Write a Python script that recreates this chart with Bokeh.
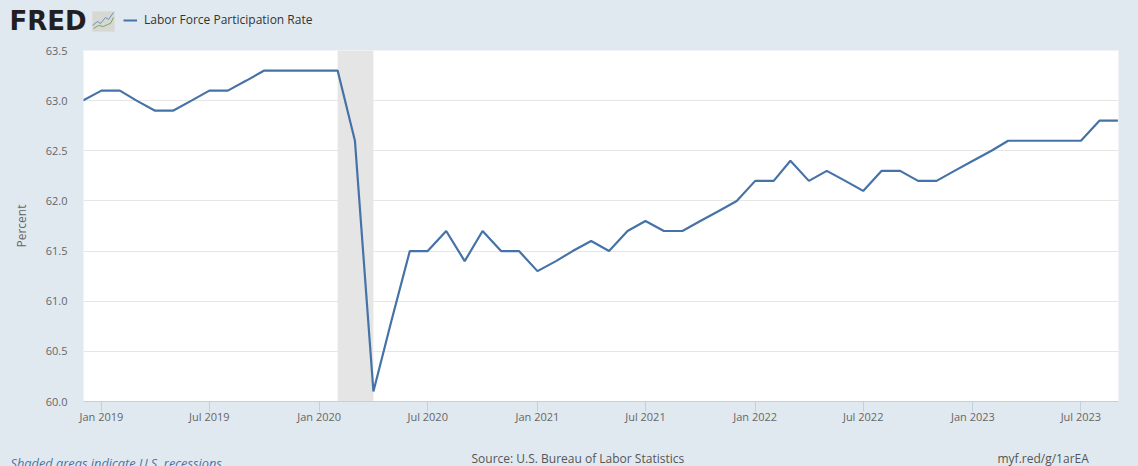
from datetime import datetime
from bokeh.embed import file_html
from bokeh.layouts import column
from bokeh.resources import INLINE
from bokeh.plotting import figure
from bokeh.models import (ColumnDataSource, FixedTicker, Label, Legend, LegendItem, Range1d)

months = [f"{y}-{m:02d}" for y, m in
          [(2018, 12)] + [(2019, m) for m in range(1, 13)] + [(2020, m) for m in range(1, 13)]
          + [(2021, m) for m in range(1, 13)] + [(2022, m) for m in range(1, 13)]
          + [(2023, m) for m in range(1, 10)]]
rate = [63.0,
        63.1, 63.1, 63.0, 62.9, 62.9, 63.0, 63.1, 63.1, 63.2, 63.3, 63.3, 63.3,
        63.3, 63.3, 62.6, 60.1, 60.8, 61.5, 61.5, 61.7, 61.4, 61.7, 61.5, 61.5,
        61.3, 61.4, 61.5, 61.6, 61.5, 61.7, 61.8, 61.7, 61.7, 61.8, 61.9, 62.0,
        62.2, 62.2, 62.4, 62.2, 62.3, 62.2, 62.1, 62.3, 62.3, 62.2, 62.2, 62.3,
        62.4, 62.5, 62.6, 62.6, 62.6, 62.6, 62.6, 62.8, 62.8]
x_ticks = ["2019-01", "2019-07", "2020-01", "2020-07", "2021-01", "2021-07",
           "2022-01", "2022-07", "2023-01", "2023-07"]
x_tick_labels = ["Jan 2019", "Jul 2019", "Jan 2020", "Jul 2020", "Jan 2021", "Jul 2021",
                 "Jan 2022", "Jul 2022", "Jan 2023", "Jul 2023"]
y_ticks = [60.0, 60.5, 61.0, 61.5, 62.0, 62.5, 63.0, 63.5]
recession_start = "2020-02"
recession_end = "2020-04"
series_name = "Labor Force Participation Rate"

BG = "#e1e9f0"
FONT = "Open Sans"
W, HEAD, FOOT = 1138, 40, 35
MAIN = 466 - HEAD - FOOT
DAY = 86400000


def ms(s):
    return datetime.strptime(s, "%Y-%m").timestamp() * 1000


dates = [ms(m) for m in months]
src = ColumnDataSource(dict(date=dates, rate=rate))

p = figure(width=W, height=MAIN, output_backend="svg", toolbar_location=None,
           x_axis_type="datetime",
           x_range=Range1d(dates[0] + DAY, dates[-1] + DAY), y_range=Range1d(60.0, 63.5),
           background_fill_color="white", border_fill_color=BG,
           min_border_left=83, min_border_right=20, min_border_top=50 - HEAD,
           min_border_bottom=MAIN - (401 - HEAD), outline_line_color=None)
p.frame_align = False

xa = p.xaxis[0]
tick_ms = [ms(t) for t in x_ticks]
xa.ticker = FixedTicker(ticks=tick_ms)
xa.major_label_overrides = dict(zip(tick_ms, x_tick_labels))
xa.axis_line_color = "#c0d0e0"
xa.major_tick_line_color = "#c0d0e0"
xa.major_tick_out = 10
xa.major_tick_in = 0
xa.minor_tick_line_color = None
xa.major_label_text_font = FONT
xa.major_label_text_font_size = "11px"
xa.major_label_text_color = "#666666"
xa.major_label_standoff = -3

ya = p.yaxis[0]
ya.ticker = FixedTicker(ticks=y_ticks)
ya.major_label_overrides = {v: f"{v:.1f}" for v in y_ticks}
ya.axis_line_color = None
ya.major_tick_line_color = None
ya.minor_tick_line_color = None
ya.major_label_text_font = FONT
ya.major_label_text_font_size = "11px"
ya.major_label_text_color = "#666666"
ya.major_label_standoff = 10
ya.axis_label = "Percent"
ya.axis_label_text_font = FONT
ya.axis_label_text_font_size = "12px"
ya.axis_label_text_font_style = "normal"
ya.axis_label_text_color = "#666666"
ya.axis_label_standoff = 13

p.xgrid.visible = False
p.ygrid[0].ticker = FixedTicker(ticks=y_ticks[1:-1])
p.ygrid[0].grid_line_color = "#e6e6e6"
p.ygrid[0].grid_line_width = 1

p.quad(left=[ms(recession_start)], right=[ms(recession_end)], bottom=[60.0], top=[63.5],
       fill_color="#e5e5e5", line_color=None)
p.line("date", "rate", source=src, line_color="#4572a7", line_width=2.2)


def band(height):
    """A plain strip whose ranges are the page's own pixels, y running downwards."""
    f = figure(width=W, height=height, output_backend="svg", toolbar_location=None,
               x_range=Range1d(0, W), y_range=Range1d(height, 0),
               background_fill_color=BG, border_fill_color=BG, outline_line_color=None,
               min_border=0, min_border_left=0, min_border_right=0, min_border_top=0,
               min_border_bottom=0, x_axis_location=None, y_axis_location=None)
    f.grid.visible = False
    f.frame_align = False
    return f


def label(f, text, x, y, size, color, font=FONT, style="normal"):
    f.add_layout(Label(x=x, y=y, text=text, text_font=font, text_font_size=size,
                       text_color=color, text_font_style=style, text_align="left",
                       text_baseline="alphabetic"))


# header strip: logo and legend
h = band(HEAD)
label(h, "FRED", 9, 20, "26px", "#231f20", font="DejaVu Sans", style="bold")
h.patch([92, 114, 114, 92], [11, 11, 31, 31], fill_color="#d6d8d4", line_color="#dcdedb")
h.line([92, 97, 100, 105, 108, 113], [25, 21, 23, 17, 19, 12], line_color="#6d8fb5", line_width=1)
h.line([93, 98, 103, 107, 110, 113], [28, 25, 26, 24, 23, 17], line_color="#7ea35a", line_width=1)
swatch = h.line("date", "rate", source=src, line_color="#4572a7", line_width=2)
legend = Legend(items=[LegendItem(label=series_name, renderers=[swatch])],
                location=(123, 12), orientation="horizontal",
                background_fill_alpha=0, border_line_color=None, padding=0, margin=0,
                glyph_width=14, glyph_height=14, label_standoff=7,
                label_text_font=FONT, label_text_font_size="12px",
                label_text_color="#333333", label_height=14)
h.add_layout(legend, "center")

# footer strip: source, short link, recession note (y counted from the strip's top)
top = 466 - FOOT
g = band(FOOT)
label(g, "Source: U.S. Bureau of Labor Statistics", 471, 458 - top, "12px", "#555555")
label(g, "myf.red/g/1arEA", 997, 458 - top, "12px", "#555555")
label(g, "Shaded areas indicate U.S. recessions", 10, 462 - top, "12.8px", "#4a74a8", style="italic")

page = column(h, p, g, spacing=0, styles={"background-color": BG})
html = file_html(page, INLINE)
open("out.html", "w").write(html)
